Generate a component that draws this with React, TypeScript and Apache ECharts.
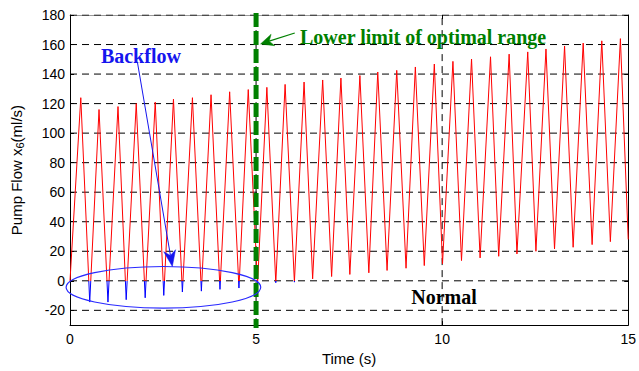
import React, { useEffect, useRef } from "react";
import * as echarts from "echarts";

// ---- data ----
const startPoint = [0, 0];
const endPoint = [15, 28];
const peakTimes = [0.29, 0.78, 1.29, 1.78, 2.29, 2.78, 3.29, 3.79, 4.29, 4.79, 5.29, 5.78, 6.29, 6.79, 7.28, 7.79, 8.27, 8.78, 9.28, 9.79, 10.29, 10.79, 11.3, 11.8, 12.3, 12.79, 13.29, 13.79, 14.29, 14.79];
const peakValues = [124, 116, 118, 120, 121, 123, 124, 126, 128, 129.5, 131, 133, 134.6, 136, 137.3, 139, 141.4, 142.5, 144.8, 146.8, 148.6, 150.2, 151.7, 153.5, 155, 157, 159, 161, 162.5, 164];
const troughTimes = [0.53, 1.02, 1.51, 2.02, 2.52, 3.02, 3.53, 4.03, 4.54, 5.04, 5.53, 6.03, 6.52, 7.03, 7.52, 8.03, 8.52, 9.03, 9.52, 10.01, 10.52, 11.02, 11.52, 12.01, 12.52, 13.02, 13.52, 14.03, 14.52];
const troughValues = [-14.4, -14.4, -12.8, -11.5, -9.9, -7.6, -7, -5.8, -4.9, -2.5, -1.3, -0.9, 1.3, 2.9, 4.3, 5.4, 7, 8.5, 10.3, 11.5, 13.7, 15.5, 16.6, 18.2, 20, 21.6, 22.7, 24.5, 26.5];

const yTickValues = [-20, 0, 20, 40, 60, 80, 100, 120, 140, 160, 180];
const xGridValues = [5, 10];
const yMin = -30;
const yMax = 180;
const xMin = 0;
const xMax = 15;

// annotation anchors (data coordinates)
const optimalLimitX = 5;
const limitArrowFrom = [6.04, 167.8];
const limitArrowTo = [5.12, 160.4];
const limitTextAt = [6.18, 165.0];
const backflowTextAt = [0.83, 152.5];
const backflowArrowFrom = [1.81, 148.3];
const backflowArrowTo = [2.75, 9.7];
const ellipseCenter = [2.51, -4.4];
const ellipseRadii = [2.615, 14.1];
const normalTextAt = [10.05, -11.0];

const sans = "'Liberation Sans', Arial, Helvetica, sans-serif";
const serif = "'Liberation Serif', 'Times New Roman', serif";

function buildData() {
  const pts: number[][] = [startPoint];
  for (let i = 0; i < peakTimes.length; i++) {
    pts.push([peakTimes[i], peakValues[i]]);
    if (i < troughTimes.length) pts.push([troughTimes[i], troughValues[i]]);
  }
  pts.push(endPoint);
  return pts;
}

function arrowEls(p0: number[], p1: number[], color: string, width: number, headLen: number, headW: number) {
  const dx = p1[0] - p0[0];
  const dy = p1[1] - p0[1];
  const L = Math.hypot(dx, dy);
  const ux = dx / L;
  const uy = dy / L;
  const nx = -uy;
  const ny = ux;
  const bx = p1[0] - ux * headLen;
  const by = p1[1] - uy * headLen;
  const mx = p1[0] - ux * headLen * 0.7;
  const my = p1[1] - uy * headLen * 0.7;
  return [
    {
      type: "line",
      z: 100,
      silent: true,
      shape: { x1: p0[0], y1: p0[1], x2: mx, y2: my },
      style: { stroke: color, lineWidth: width },
    },
    {
      type: "polygon",
      z: 100,
      silent: true,
      shape: {
        points: [
          [p1[0], p1[1]],
          [bx + (nx * headW) / 2, by + (ny * headW) / 2],
          [mx, my],
          [bx - (nx * headW) / 2, by - (ny * headW) / 2],
        ],
      },
      style: { fill: color, stroke: color, lineWidth: 0.5 },
    },
  ];
}

export default function App() {
  const ref = useRef<HTMLDivElement>(null);

  useEffect(() => {
    if (!ref.current) return;
    const chart = echarts.init(ref.current, null, { renderer: "svg" });

    const axisCommonY = {
      type: "value",
      min: yMin,
      max: yMax,
      axisLine: { show: true, onZero: false, lineStyle: { color: "#000", width: 1 } },
      axisTick: { show: true, inside: true, length: 4, customValues: yTickValues, lineStyle: { color: "#000" } },
      splitLine: { show: false },
    };

    const gridStyle = { color: "#000", width: 1, type: [7, 5] };
    const gridSeries = [
      ...yTickValues.map((v) => ({
        type: "line",
        data: [
          [xMin, v],
          [xMax, v],
        ],
        symbol: "none",
        silent: true,
        z: 1,
        lineStyle: gridStyle,
      })),
      ...xGridValues.map((v) => ({
        type: "line",
        data: [
          [v, yMin],
          [v, yMax],
        ],
        symbol: "none",
        silent: true,
        z: 1,
        lineStyle: gridStyle,
      })),
    ];

    const option: any = {
      animation: false,
      backgroundColor: "#fff",
      grid: { left: 70, right: 7, top: 15, bottom: 44 },
      xAxis: [
        {
          type: "value",
          min: xMin,
          max: xMax,
          interval: 5,
          position: "bottom",
          axisLine: { show: true, onZero: false, lineStyle: { color: "#000", width: 1 } },
          axisTick: { show: true, inside: true, length: 4, lineStyle: { color: "#000" } },
          axisLabel: { color: "#000", fontSize: 14, fontFamily: sans, margin: 7 },
          splitLine: { show: false },
          name: "Time (s)",
          nameLocation: "middle",
          nameGap: 23,
          nameTextStyle: { color: "#000", fontSize: 15, fontFamily: sans },
        },
        {
          type: "value",
          min: xMin,
          max: xMax,
          interval: 5,
          position: "top",
          axisLine: { show: true, onZero: false, lineStyle: { color: "#999", width: 1 } },
          axisTick: { show: true, inside: true, length: 4, lineStyle: { color: "#000" } },
          axisLabel: { show: false },
          splitLine: { show: false },
        },
      ],
      yAxis: [
        {
          ...axisCommonY,
          position: "left",
          axisLabel: { customValues: yTickValues, color: "#000", fontSize: 14, fontFamily: sans, margin: 5 },
          name: "Pump Flow x{sub|6}(ml/s)",
          nameLocation: "middle",
          nameGap: 45,
          nameRotate: 90,
          nameTextStyle: {
            color: "#000",
            fontSize: 15,
            fontFamily: sans,
            rich: { sub: { fontSize: 11, fontFamily: sans, color: "#000", verticalAlign: "bottom", padding: [7, 0, 0, 0] } },
          },
        },
        {
          ...axisCommonY,
          position: "right",
          axisLabel: { show: false, customValues: yTickValues },
        },
      ],
      visualMap: {
        type: "piecewise",
        show: false,
        dimension: 1,
        seriesIndex: 0,
        pieces: [
          { gte: -100, lt: 0, color: "#0000ff" },
          { gte: 0, lte: 300, color: "#ff0000" },
        ],
        outOfRange: { color: "#ff0000" },
      },
      series: [
        {
          type: "line",
          name: "flow",
          data: buildData(),
          showSymbol: false,
          symbol: "none",
          lineStyle: { width: 1 },
          z: 5,
          silent: true,
        },
        ...gridSeries,
      ],
    };

    chart.setOption(option);

    const px = (p: number[]) => chart.convertToPixel({ gridIndex: 0 }, p) as number[];
    const top = px([optimalLimitX, yMax]);
    const bottom = px([optimalLimitX, yMin]);
    const c = px(ellipseCenter);
    const rEdge = px([ellipseCenter[0] + ellipseRadii[0], ellipseCenter[1] + ellipseRadii[1]]);
    const green = "#008000";
    const blue = "#1515ee";

    const graphic: any[] = [
      {
        type: "line",
        z: 90,
        silent: true,
        shape: { x1: top[0], y1: top[1] - 2, x2: bottom[0], y2: bottom[1] + 3 },
        style: { stroke: green, lineWidth: 5, lineDash: [14, 4] },
      },
      ...arrowEls(px(limitArrowFrom), px(limitArrowTo), green, 1.2, 13, 12),
      {
        type: "text",
        z: 100,
        silent: true,
        x: px(limitTextAt)[0],
        y: px(limitTextAt)[1],
        style: {
          text: "Lower limit of optimal range",
          fill: green,
          fontSize: 20,
          fontWeight: "bold",
          fontFamily: serif,
          align: "left",
          verticalAlign: "middle",
        },
      },
      {
        type: "text",
        z: 100,
        silent: true,
        x: px(backflowTextAt)[0],
        y: px(backflowTextAt)[1],
        style: {
          text: "Backflow",
          fill: blue,
          fontSize: 20,
          fontWeight: "bold",
          fontFamily: serif,
          align: "left",
          verticalAlign: "middle",
        },
      },
      ...arrowEls(px(backflowArrowFrom), px(backflowArrowTo), blue, 1, 16, 12),
      {
        type: "ellipse",
        z: 95,
        silent: true,
        shape: { cx: c[0], cy: c[1], rx: Math.abs(rEdge[0] - c[0]), ry: Math.abs(rEdge[1] - c[1]) },
        style: { fill: "none", stroke: "#2a2aff", lineWidth: 1.2 },
      },
      {
        type: "text",
        z: 100,
        silent: true,
        x: px(normalTextAt)[0],
        y: px(normalTextAt)[1],
        style: {
          text: "Normal",
          fill: "#000",
          fontSize: 20,
          fontWeight: "bold",
          fontFamily: serif,
          align: "center",
          verticalAlign: "middle",
        },
      },
    ];

    chart.setOption({ graphic });

    return () => {
      chart.dispose();
    };
  }, []);

  return (
    <div
      ref={ref}
      style={{ position: "fixed", left: 0, top: 0, width: 639, height: 371, background: "#fff" }}
    />
  );
}
